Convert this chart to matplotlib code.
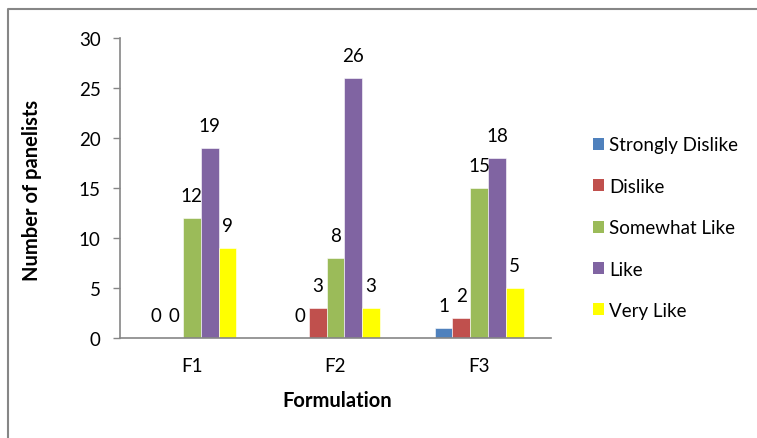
import matplotlib
matplotlib.use("Agg")
import matplotlib.pyplot as plt
from matplotlib.lines import Line2D
from matplotlib.patches import Patch
import numpy as np

categories = ["F1", "F2", "F3"]
series_names = ["Strongly Dislike", "Dislike", "Somewhat Like", "Like", "Very Like"]
strongly_dislike = [0, 0, 1]
dislike = [0, 3, 2]
somewhat_like = [12, 8, 15]
like = [19, 26, 18]
very_like = [9, 3, 5]
y_ticks = [0, 5, 10, 15, 20, 25, 30]

series_values = [strongly_dislike, dislike, somewhat_like, like, very_like]
colors = ["#4F81BD", "#C0504D", "#9BBB59", "#8064A2", "#FFFF00"]

plt.rcParams["font.family"] = ["Lato", "DejaVu Sans"]
FS = 13.5
TITLE_FS = 14.5

W, H = 757, 439
fig = plt.figure(figsize=(W / 100, H / 100), dpi=100)
ax = fig.add_axes([120 / W, 1 - 339 / H, (551 - 120) / W, 300 / H])

x = np.arange(len(categories))
bw = 0.124
for i, (name, vals, c) in enumerate(zip(series_names, series_values, colors)):
    pos = x + (i - 2) * bw
    ax.bar(pos, vals, width=bw, color=c, edgecolor="white", linewidth=0.4, label=name)
    for px, v in zip(pos, vals):
        ax.annotate(str(v), (px, v), xytext=(0, 16.5), textcoords="offset points",
                    ha="center", va="center", fontsize=FS, color="black")

ax.set_xlim(-0.5, 2.5)
ax.set_ylim(0, 30)
ax.set_yticks(y_ticks)
ax.set_xticks(x)
ax.set_xticklabels(categories)
ax.tick_params(axis="y", length=5, width=1, color="#868686", pad=9, labelsize=FS)
ax.tick_params(axis="x", length=0, pad=14, labelsize=FS)
for s in ["top", "right"]:
    ax.spines[s].set_visible(False)
for s in ["left", "bottom"]:
    ax.spines[s].set_color("#868686")
    ax.spines[s].set_linewidth(1.2)

fig.text(32 / W, 1 - 190 / H, "Number of panelists", rotation=90, ha="center", va="center",
         fontsize=TITLE_FS, fontweight="bold")
fig.text(337 / W, 1 - 401 / H, "Formulation", ha="center", va="center",
         fontsize=TITLE_FS, fontweight="bold")

handles = [Patch(facecolor=c, edgecolor="none") for c in colors]
fig.legend(handles, series_names, loc="upper left", bbox_to_anchor=(585 / W, 1 - 130 / H),
           frameon=False, fontsize=FS, handlelength=0.6, handleheight=0.6,
           handletextpad=0.3, labelspacing=1.3, borderaxespad=0)

# outer chart border (left and top edges)
fig.add_artist(Line2D([8 / W, 8 / W, 1.0], [0.0, 1 - 10 / H, 1 - 10 / H],
                      transform=fig.transFigure, color="#868686", linewidth=1.5))

fig.savefig("out.png", dpi=100)
